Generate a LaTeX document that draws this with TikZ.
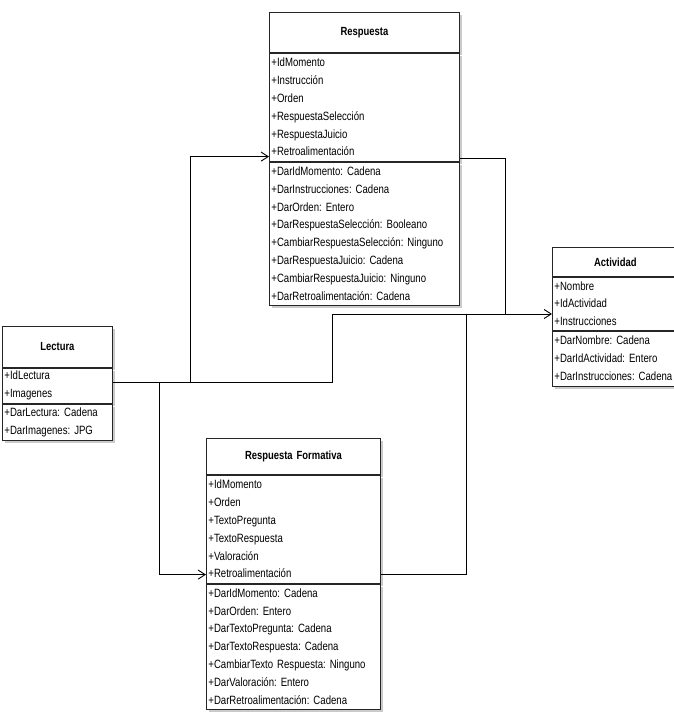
\documentclass[tikz,border=0pt]{standalone}
\usepackage{fontspec}
\setmainfont{Liberation Sans}[FakeStretch=0.8]
\usetikzlibrary{arrows.meta,shadows}
\frenchspacing
\hyphenpenalty=10000

\begin{document}
\begin{tikzpicture}[x=1pt,y=-1pt,line width=0.9pt,>={Straight Barb[length=2.5mm,width=3.2mm]},
  caja/.style={draw=black!85,fill=white,line width=0.8pt,inner xsep=2pt,inner ysep=0pt,anchor=north west,
    drop shadow={shadow xshift=3pt,shadow yshift=-3pt,fill=black!35,opacity=0.6}},
  titulo/.style={caja,font=\fontsize{11.8}{13}\selectfont\bfseries,align=center},
  lista/.style={caja,font=\fontsize{12}{17.8}\selectfont,align=left}]
  \useasboundingbox (0,0) rectangle (673,721);
  % clase Respuesta
  \node[titulo,text width=186pt,minimum height=40pt] (resT) at (269,12) {Respuesta};
  \node[lista,text width=186pt,minimum height=108pt] (resA) at (resT.south west)
    {+IdMomento\\+Instrucción\\+Orden\\+RespuestaSelección\\+RespuestaJuicio\\+Retroalimentación};
  \node[lista,text width=186pt,minimum height=143pt] (resM) at (resA.south west)
    {+DarIdMomento: Cadena\\+DarInstrucciones: Cadena\\+DarOrden: Entero\\+DarRespuestaSelección: Booleano\\
     +CambiarRespuestaSelección: Ninguno\\+DarRespuestaJuicio: Cadena\\+CambiarRespuestaJuicio: Ninguno\\
     +DarRetroalimentación: Cadena};
  % clase Lectura
  \node[titulo,text width=106pt,minimum height=41pt] (lecT) at (2,326) {Lectura};
  \node[lista,text width=106pt,minimum height=35pt] (lecA) at (lecT.south west) {+IdLectura\\+Imagenes};
  \node[lista,text width=106pt,minimum height=36pt] (lecM) at (lecA.south west)
    {+DarLectura: Cadena\\+DarImagenes: JPG};
  % clase Actividad (cortada a la derecha)
  \node[titulo,text width=122pt,minimum height=29pt] (actT) at (552,247) {Actividad};
  \node[lista,text width=122pt,minimum height=53pt] (actA) at (actT.south west)
    {+Nombre\\+IdActividad\\+Instrucciones};
  \node[lista,text width=122pt,minimum height=55pt] (actM) at (actA.south west)
    {+DarNombre: Cadena\\+DarIdActividad: Entero\\+DarInstrucciones: Cadena};
  % clase Respuesta Formativa
  \node[titulo,text width=170pt,minimum height=36pt] (rfT) at (206,438) {Respuesta Formativa};
  \node[lista,text width=170pt,minimum height=108pt] (rfA) at (rfT.south west)
    {+IdMomento\\+Orden\\+TextoPregunta\\+TextoRespuesta\\+Valoración\\+Retroalimentación};
  \node[lista,text width=170pt,minimum height=125pt] (rfM) at (rfA.south west)
    {+DarIdMomento: Cadena\\+DarOrden: Entero\\+DarTextoPregunta: Cadena\\+DarTextoRespuesta: Cadena\\
     +CambiarTexto Respuesta: Ninguno\\+DarValoración: Entero\\+DarRetroalimentación: Cadena};
  % puntos de quiebre
  \coordinate (j1) at (190,382);
  \coordinate (j2) at (159,382);
  \coordinate (j3) at (332,314);
  \coordinate (j4) at (505,314);
  \coordinate (j5) at (466,314);
  \coordinate (rin) at ([yshift=5pt]resA.south west);
  \coordinate (rout) at ([yshift=3pt]resA.south east);
  \coordinate (fin) at ([yshift=9pt]rfA.south west);
  % Lectura -> Actividad
  \draw[->] (lecA.east |- j1) -- (j3 |- j1) -- (j3) -- (actA.west |- j3);
  % Lectura -> Respuesta
  \draw[->] (j1) -- (j1 |- rin) -- (rin);
  % Lectura -> Respuesta Formativa
  \draw[->] (j2) -- (j2 |- fin) -- (fin);
  % Respuesta y Respuesta Formativa se unen a la linea
  \draw (rout) -- (j4 |- rout) -- (j4);
  \draw (fin -| rfA.east) -- (j5 |- fin) -- (j5);
\end{tikzpicture}
\end{document}
